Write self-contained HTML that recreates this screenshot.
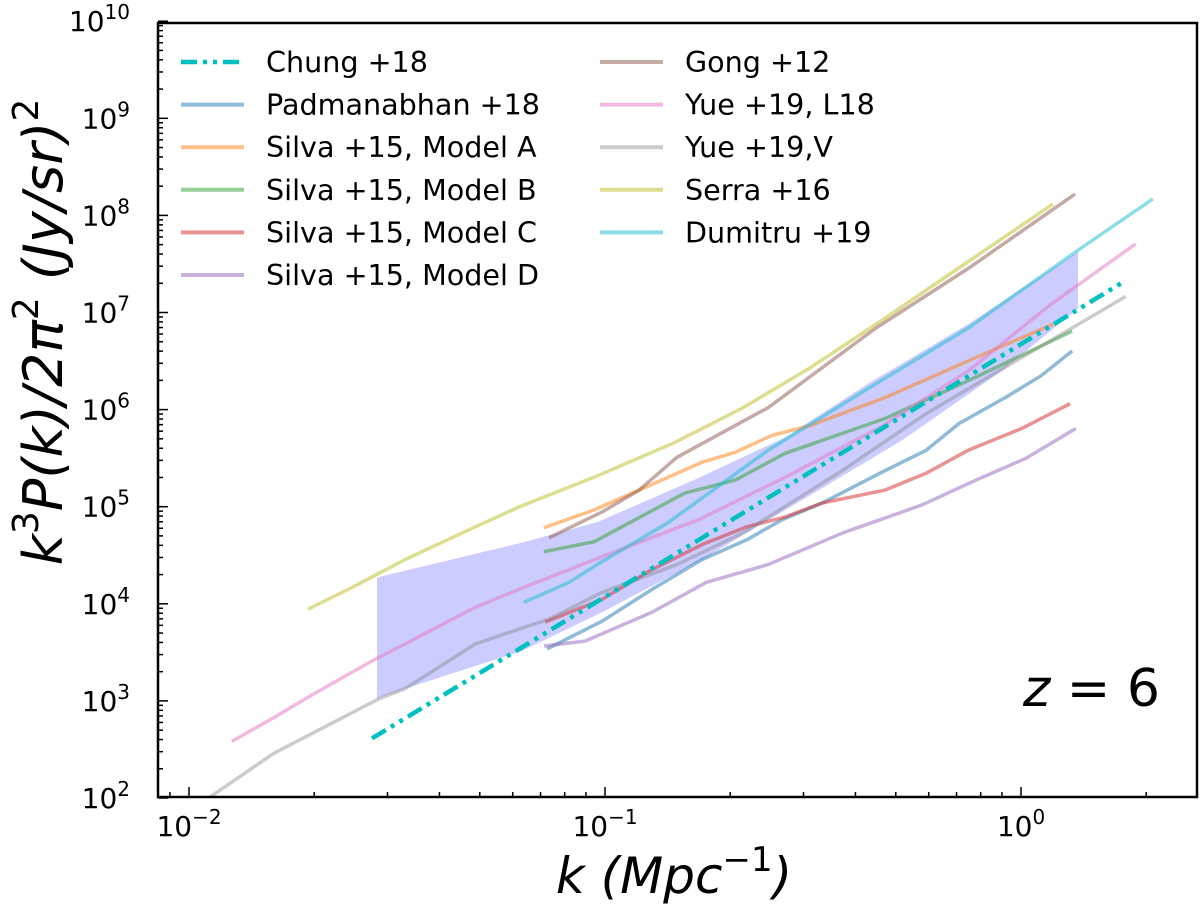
<!DOCTYPE html>
<html><head><meta charset="utf-8"><style>
html,body{margin:0;padding:0;background:#fff;}
svg{display:block;font-family:"DejaVu Sans","Liberation Sans",sans-serif;}
</style></head><body>
<svg id="chart" width="1200" height="908" viewBox="0 0 1200 908" xmlns="http://www.w3.org/2000/svg">
<defs><clipPath id="clip"><rect x="158" y="23" width="1039" height="774"/></clipPath></defs>
<g id="shade" clip-path="url(#clip)"></g>
<g id="lines" clip-path="url(#clip)"></g>
<rect x="158" y="23" width="1039" height="774" fill="none" stroke="#000" stroke-width="2.5"/>
<g id="ticks"></g>
<g id="legend"></g>
<text x="674" y="893" font-size="50" text-anchor="middle" font-style="italic">k (Mpc<tspan dy="-22" font-size="34" font-style="normal">−1</tspan><tspan dy="22">)</tspan></text>
<text transform="translate(62,332) rotate(-90)" font-size="54" text-anchor="middle" font-style="italic">k<tspan dy="-24" font-size="36" font-style="normal">3</tspan><tspan dy="24">P(k)/2π</tspan><tspan dy="-24" font-size="36" font-style="normal">2</tspan><tspan dy="24"> (Jy/sr)</tspan><tspan dy="-24" font-size="36" font-style="normal">2</tspan></text>
<text x="1160" y="706" font-size="52" text-anchor="end"><tspan font-style="italic">z</tspan> = 6</text>
</svg>
<script>
// data in log10 units: log10(k [Mpc^-1]) and log10(k^3 P/2pi^2)
const serraK=[-1.714,-1.608,-1.481,-1.327,-1.207,-1.026,-0.837,-0.668,-0.507,-0.327,-0.127,0.077];
const serraP=[3.944,4.169,4.455,4.762,4.997,5.304,5.652,6.020,6.430,6.941,7.524,8.118];
const gongK=[-1.135,-1.007,-0.918,-0.827,-0.608,-0.349,-0.127,0.130];
const gongP=[4.680,4.946,5.171,5.509,6.020,6.839,7.453,8.220];
const dumK=[-1.195,-1.087,-1.007,-0.849,-0.608,-0.349,-0.127,0.132,0.317];
const dumP=[4.015,4.220,4.435,4.834,5.581,6.266,6.839,7.627,8.169];
const silvaAK=[-1.147,-1.026,-0.918,-0.767,-0.687,-0.599,-0.507,-0.327,-0.127,0.077];
const silvaAP=[4.783,4.967,5.171,5.458,5.560,5.734,5.836,6.123,6.501,6.880];
const silvaBK=[-1.147,-1.026,-0.808,-0.687,-0.567,-0.327,-0.127,0.123];
const silvaBP=[4.537,4.639,5.141,5.274,5.550,5.908,6.297,6.808];
const yueLK=[-1.897,-1.800,-1.712,-1.560,-1.481,-1.312,-1.207,-1.007,-0.776,-0.567,-0.339,-0.127,0.072,0.276];
const yueLP=[2.583,2.818,3.043,3.412,3.586,3.964,4.148,4.486,4.864,5.304,5.816,6.399,7.084,7.708];
const yueVK=[-1.981,-1.796,-1.704,-1.543,-1.481,-1.312,-1.207,-1.135,-1.007,-0.827,-0.668,-0.428,-0.228,0.252];
const yueVP=[1.918,2.460,2.665,3.023,3.125,3.586,3.739,3.841,4.118,4.404,4.731,5.376,5.959,7.166];
const chungK=[-1.560,0.248];
const chungP=[2.614,7.320];
const padK=[-1.139,-1.007,-0.887,-0.767,-0.659,-0.575,-0.478,-0.339,-0.228,-0.149,-0.038,0.048,0.123];
const padP=[3.535,3.821,4.148,4.455,4.660,4.864,5.038,5.345,5.581,5.857,6.123,6.348,6.604];
const silvaCK=[-1.144,-1.007,-0.887,-0.767,-0.659,-0.567,-0.478,-0.327,-0.228,-0.127,0.002,0.118];
const silvaCP=[3.811,4.046,4.353,4.609,4.793,4.895,5.038,5.171,5.345,5.581,5.806,6.061];
const silvaDK=[-1.147,-1.048,-0.887,-0.757,-0.608,-0.428,-0.238,-0.108,0.012,0.132];
const silvaDP=[3.565,3.616,3.913,4.220,4.404,4.731,5.018,5.274,5.499,5.806];
const bandUpK=[-1.548,-1.320,-1.200,-1.017,-0.776,-0.567,-0.368,-0.127,0.137];
const bandUpP=[4.271,4.506,4.629,4.844,5.294,5.714,6.266,6.880,7.627];
const bandLoK=[-1.548,-1.481,-1.200,-1.007,-0.767,-0.526,-0.286,-0.046,0.137];
const bandLoP=[3.023,3.125,3.514,3.913,4.455,5.069,5.683,6.399,7.043];
const xTickExp=[-2,-1,0];
const yTickExp=[2,3,4,5,6,7,8,9,10];

const NS="http://www.w3.org/2000/svg";
function X(lk){return 189+416*(lk+2);}
function Y(lp){return 798-97.1*(lp-2);}
function mk(tag,attrs,parent){const e=document.createElementNS(NS,tag);for(const k in attrs)e.setAttribute(k,attrs[k]);parent.appendChild(e);return e;}

const pts=[];
for(let i=0;i<bandUpK.length;i++)pts.push(X(bandUpK[i])+','+Y(bandUpP[i]));
for(let i=bandLoK.length-1;i>=0;i--)pts.push(X(bandLoK[i])+','+Y(bandLoP[i]));
const band=mk('polygon',{points:pts.join(' '),fill:'#0000ff','fill-opacity':0.2,stroke:'none'},document.getElementById('shade'));



const series=[
 {name:'padmanabhan-18',label:'Padmanabhan +18',k:padK,p:padP,c:'#1f77b4',a:0.5},
 {name:'silva-15-model-a',label:'Silva +15, Model A',k:silvaAK,p:silvaAP,c:'#ff7f0e',a:0.5},
 {name:'silva-15-model-b',label:'Silva +15, Model B',k:silvaBK,p:silvaBP,c:'#2ca02c',a:0.5},
 {name:'silva-15-model-c',label:'Silva +15, Model C',k:silvaCK,p:silvaCP,c:'#d62728',a:0.5},
 {name:'silva-15-model-d',label:'Silva +15, Model D',k:silvaDK,p:silvaDP,c:'#9467bd',a:0.5},
 {name:'gong-12',label:'Gong +12',k:gongK,p:gongP,c:'#8c564b',a:0.5},
 {name:'yue-19-l18',label:'Yue +19, L18',k:yueLK,p:yueLP,c:'#e377c2',a:0.5},
 {name:'yue-19-v',label:'Yue +19,V',k:yueVK,p:yueVP,c:'#7f7f7f',a:0.4},
 {name:'serra-16',label:'Serra +16',k:serraK,p:serraP,c:'#bcbd22',a:0.5},
 {name:'dumitru-19',label:'Dumitru +19',k:dumK,p:dumP,c:'#17becf',a:0.5}
];
const lg=document.getElementById('lines');
series.forEach(s=>{
 const d=s.k.map((v,i)=>(i?'L':'M')+X(v)+','+Y(s.p[i])).join(' ');
 const e=mk('path',{d:d,fill:'none',stroke:s.c,'stroke-opacity':s.a,'stroke-width':3.5,'stroke-linejoin':'round'},lg);
 
 
});
const cd=chungK.map((v,i)=>(i?'L':'M')+X(v)+','+Y(chungP[i])).join(' ');
const chung=mk('path',{d:cd,fill:'none',stroke:'#00bfbf','stroke-width':4.5,'stroke-dasharray':'16 6 4 6 4 6'},lg);



const tg=document.getElementById('ticks');
for(let e=-3;e<=0;e++){
 for(let m=1;m<10;m++){
  const lk=e+Math.log10(m);const x=X(lk);
  if(x<158||x>1197)continue;
  const len=m===1?10:5;
  mk('line',{x1:x,x2:x,y1:797,y2:797-len,stroke:'#000','stroke-width':1.5},tg);
 }
}
for(let e=2;e<10;e++){
 for(let m=1;m<10;m++){
  const y=Y(e+Math.log10(m));
  const len=m===1?10:5;
  mk('line',{x1:158,x2:158+len,y1:y,y2:y,stroke:'#000','stroke-width':1.5},tg);
 }
}
mk('line',{x1:158,x2:168,y1:Y(10),y2:Y(10),stroke:'#000','stroke-width':1.5},tg);
xTickExp.forEach(e=>{
 const t=mk('text',{x:X(e),y:836,'font-size':28,'text-anchor':'middle'},tg);
 
 
 t.innerHTML='10<tspan dy="-12" font-size="20">'+(e<0?'−'+(-e):e)+'</tspan>';
});
yTickExp.forEach(e=>{
 const t=mk('text',{x:130,y:Y(e)+10,'font-size':28,'text-anchor':'end'},tg);
 
 
 t.innerHTML='10<tspan dy="-12" font-size="20">'+e+'</tspan>';
});

const L=document.getElementById('legend');
const entries=[{label:'Chung +18',c:'#00bfbf',a:1,dash:true}].concat(series);
entries.forEach((s,i)=>{
 const col=i<6?0:1,row=i%6;
 const x0=col?600:181,y=62+row*42.6;
 const g=mk('g',{},L);
 
 
 const ln=mk('line',{x1:x0,x2:x0+63,y1:y,y2:y,stroke:s.c,'stroke-opacity':s.dash?1:s.a,'stroke-width':s.dash?4.5:4},g);
 if(s.dash)ln.setAttribute('stroke-dasharray','16 6 4 6 4 6');
 const t=mk('text',{x:x0+85,y:y+10,'font-size':28.6},g);
 t.textContent=s.label;
});
</script>
</body></html>
